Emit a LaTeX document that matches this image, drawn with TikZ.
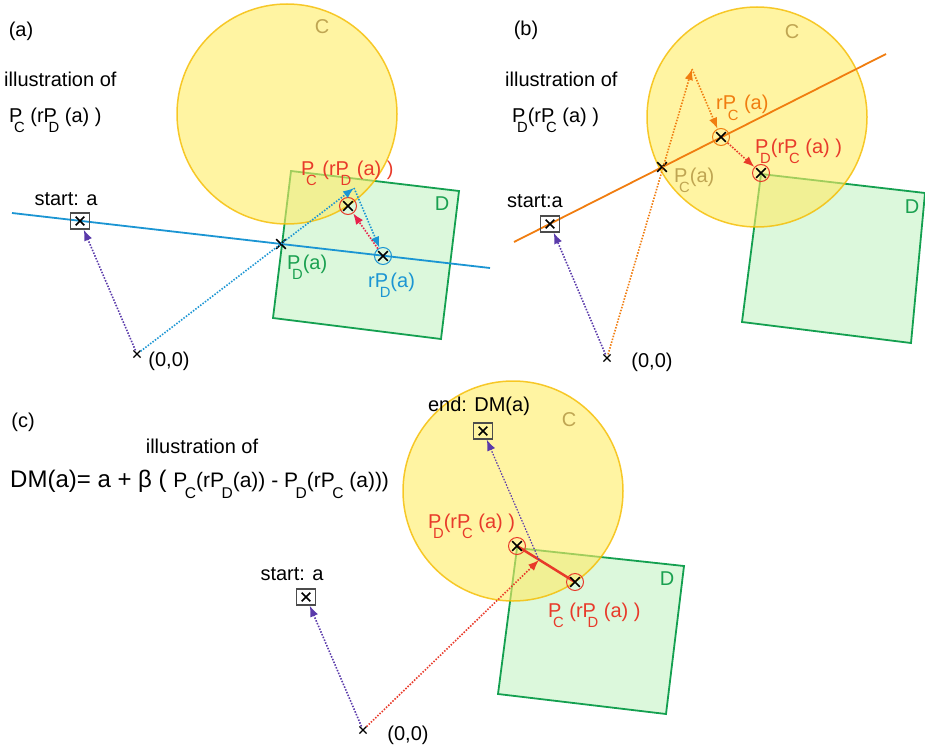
\documentclass[tikz,border=0pt]{standalone}
\usepackage{fontspec}
\usepackage{graphicx}
\setmainfont{Liberation Sans}
\usetikzlibrary{arrows.meta,shapes.misc}

\definecolor{cyel}{HTML}{FFEC64}
\definecolor{cyelb}{HTML}{F5BC00}
\definecolor{sqfill}{HTML}{DCF8DC}
\definecolor{sqdraw}{HTML}{14A050}
\definecolor{lblue}{HTML}{1B95D3}
\definecolor{lorange}{HTML}{F07D10}
\definecolor{pred}{HTML}{E83A2A}
\definecolor{crim}{HTML}{E8204A}
\definecolor{purp}{HTML}{5A3AAA}
\definecolor{khaki}{HTML}{BFA552}
\definecolor{lgreen}{HTML}{1AA050}

\newcommand{\sbx}[2][-0.42em]{\kern#1\raisebox{-0.53em}{\scalebox{0.74}{#2}}}

\tikzset{
  lbl/.style={font=\fontsize{20}{24}\selectfont, inner sep=0pt},
  eqlbl/.style={font=\fontsize{24}{28}\selectfont, inner sep=0pt},
  xmark/.style={cross out, draw=black, line width=1.7pt, minimum size=8pt, inner sep=0pt},
  smallx/.style={cross out, draw=black, line width=1.2pt, minimum size=6pt, inner sep=0pt},
  startbox/.style={draw=black!70, line width=1.3pt, minimum width=19pt, minimum height=16pt, inner sep=0pt},
  ring/.style={circle, draw=#1, line width=1pt, minimum size=17pt, inner sep=0pt},
  darrow/.style={draw=#1, line width=1.6pt, dash pattern=on 1.5pt off 1.5pt, -{Latex[length=11pt,width=8.5pt]}},
  setC/.style={fill=cyel, fill opacity=0.6, draw=cyelb, draw opacity=0.8, line width=1.5pt},
  setD/.style={fill=sqfill, draw=sqdraw, line width=1.8pt},
  projline/.style={line width=1.8pt, draw=#1},
}

\begin{document}
\begin{tikzpicture}[x=1pt,y=-1pt]
\useasboundingbox (0,0) rectangle (925,749);

% ================= panel (a) =================
\draw[setD] (291,171) -- (459,191) -- (441,339) -- (273,318) -- cycle;
\draw[setC] (287,114) circle[radius=110];
\coordinate (la1) at (12,213);
\coordinate (la2) at (490,268);
\draw[projline=lblue] (la1) -- (la2);

\node[lbl, anchor=center] (tla) at (21,31) {(a)};
\node[lbl, anchor=base west] (illa) at (4,87) {illustration of};
\node[lbl, anchor=base west] (fa) at (9,122) {P\sbx{C} (rP\sbx{D} (a) )};
\node[lbl, anchor=center, text=khaki] (Cla) at (322,27) {C};
\node[lbl, anchor=center, text=lgreen] (Dla) at (442,204) {D};

\node[startbox] (sa) at (80,221) {};
\node[xmark, minimum size=7pt] (sax) at (80,221) {};
\node[lbl, anchor=base] (sal) at (66,205) {start: a};
\node[smallx] (oa) at (137,354) {};
\node[lbl, anchor=center] (oal) at (169,361) {(0,0)};
\node[xmark] (pda) at (281,244) {};
\coordinate (ta) at (354,188);
\node[ring=lblue] (rpda) at (383,256) {};
\node[xmark] (rpdax) at (383,256) {};
\node[ring=pred] (pcra) at (348,206) {};
\node[xmark] (pcrax) at (348,206) {};

\draw[darrow=purp] (oa) -- (sa);
\draw[darrow=lblue] (oa) -- (ta);
\draw[darrow=lblue] (ta) -- (rpda);
\draw[darrow=crim] (rpda) -- (pcra);

\node[lbl, anchor=base west, text=lgreen] (pdal) at (287,269) {P\sbx{D}(a)};
\node[lbl, anchor=base west, text=lblue] (rpdal) at (368,287) {rP\sbx{D}(a)};
\node[lbl, anchor=base west, text=pred] (pcral) at (301,175) {P\sbx{C} (rP\sbx{D} (a) )};

% ================= panel (b) =================
\draw[setD] (761,174) -- (925,193) -- (911,343) -- (742,322) -- cycle;
\draw[setC] (757,117) circle[radius=110];
\coordinate (lb1) at (514,242);
\coordinate (lb2) at (886,54);
\draw[projline=lorange] (lb1) -- (lb2);

\node[lbl, anchor=center] (tlb) at (526,30) {(b)};
\node[lbl, anchor=base west] (illb) at (505,87) {illustration of};
\node[lbl, anchor=base west] (fb) at (512,122) {P\sbx{D}(rP\sbx{C} (a) )};
\node[lbl, anchor=center, text=khaki] (Clb) at (792,32) {C};
\node[lbl, anchor=center, text=lgreen] (Dlb) at (912,207) {D};

\node[startbox] (sb) at (550,224) {};
\node[xmark, minimum size=7pt] (sbx) at (550,224) {};
\node[lbl, anchor=base] (sbl) at (535,207) {start:a};
\node[smallx] (ob) at (607,358) {};
\node[lbl, anchor=center] (obl) at (652,362) {(0,0)};
\node[xmark] (pcb) at (662,167) {};
\coordinate (tb) at (692,69);
\node[ring=lorange] (rpcb) at (721,137) {};
\node[xmark] (rpcbx) at (721,137) {};
\node[ring=pred] (pdrb) at (761,173) {};
\node[xmark] (pdrbx) at (761,173) {};

\draw[darrow=purp] (ob) -- (sb);
\draw[darrow=lorange] (ob) -- (tb);
\draw[darrow=lorange] (tb) -- (rpcb);
\draw[darrow=pred] (rpcb) -- (pdrb);

\node[lbl, anchor=base west, text=khaki] (pcbl) at (674,182) {P\sbx{C}(a)};
\node[lbl, anchor=base west, text=lorange] (rpcbl) at (716,110) {rP\sbx{C} (a)};
\node[lbl, anchor=base west, text=pred] (pdrbl) at (755,153) {P\sbx{D}(rP\sbx{C} (a) )};

% ================= panel (c) =================
\draw[setD] (517,548) -- (684,566) -- (666,714) -- (498,694) -- cycle;
\draw[setC] (513,491) circle[radius=110];

\node[lbl, anchor=center] (tlc) at (23,422) {(c)};
\node[lbl, anchor=base] (illc) at (202,453) {illustration of};
\node[eqlbl, anchor=base west] (eqc) at (10,487) {DM(a)= a + β ( {\fontsize{21}{24}\selectfont P\sbx[-0.12em]{C}(rP\sbx[-0.12em]{D}(a)) - P\sbx[-0.12em]{D}(rP\sbx[-0.12em]{C} (a)))}};
\node[lbl, anchor=center, text=khaki] (Clc) at (569,420) {C};
\node[lbl, anchor=center, text=lgreen] (Dlc) at (667,579) {D};

\node[startbox] (ec) at (483,431) {};
\node[xmark, minimum size=7pt] (ecx) at (483,431) {};
\node[lbl, anchor=base] (ecl) at (479,411) {end: DM(a)};
\node[startbox] (sc) at (306,597) {};
\node[xmark, minimum size=7pt] (scx) at (306,597) {};
\node[lbl, anchor=base] (scl) at (292,580) {start: a};
\node[smallx] (oc) at (363,730) {};
\node[lbl, anchor=center] (ocl) at (408,735) {(0,0)};
\node[ring=pred] (pdrc) at (517,546) {};
\node[ring=pred] (pcrc) at (575,582) {};
\coordinate (mc) at (539,560);

\draw[line width=2.5pt, draw=pred] (pdrc.center) -- (pcrc.center);
\node[xmark] (pdrcx) at (517,546) {};
\node[xmark] (pcrcx) at (575,582) {};
\draw[darrow=pred] (oc) -- (mc);
\draw[darrow=purp, line width=1.2pt] (mc) -- (ec);
\draw[darrow=purp] (oc) -- (sc);

\node[lbl, anchor=base west, text=pred] (pdrcl) at (428,528) {P\sbx{D}(rP\sbx{C} (a) )};
\node[lbl, anchor=base west, text=pred] (pcrcl) at (548,617) {P\sbx{C} (rP\sbx{D} (a) )};
\end{tikzpicture}
\end{document}
